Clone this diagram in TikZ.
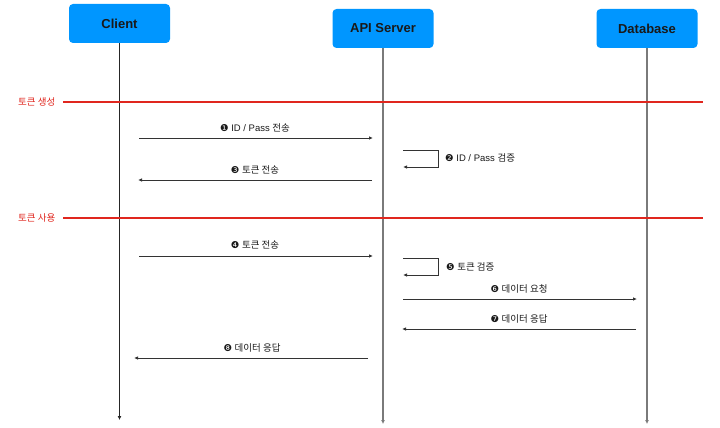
\documentclass[tikz,border=0pt]{standalone}
\usepackage{fontspec}
\setmainfont{Liberation Sans}
\newfontfamily\krfont{Noto Sans CJK KR}
\newfontfamily\symfont{DejaVu Sans}
\usetikzlibrary{arrows.meta, calc}

\definecolor{boxblue}{HTML}{0096FF}
\definecolor{phasered}{HTML}{E0261E}
\definecolor{lifegray}{HTML}{7A7A7A}
\definecolor{msgdark}{HTML}{333333}

\newcommand{\stepnum}[1]{{\symfont #1}}

\tikzset{
	actor/.style = {draw=none, fill=boxblue, rounded corners=4pt, minimum width=101pt, minimum height=39pt, inner sep=0pt, font=\fontsize{13}{15}\selectfont\bfseries, text=black!90},
	lifeline/.style = {line width=1.3pt, -{Latex[length=4pt, width=4pt]}},
	phase/.style = {draw=phasered, line width=1.5pt},
	phaselabel/.style = {text=phasered, font=\fontsize{9.5}{11}\selectfont\krfont, anchor=west, inner sep=0pt},
	msg/.style = {draw=msgdark, line width=1pt, -{Latex[length=4pt, width=3.5pt]}},
	msglabel/.style = {font=\fontsize{9.5}{11}\selectfont, text=black!90, inner sep=0pt}
}

\begin{document}
\begin{tikzpicture}[x=1pt, y=-1pt]

	\useasboundingbox (0,0) rectangle (720,428);

	% Define coordinates.

	%actors
	\node [actor] (client) at (119.5, 23.5) {Client};
	\node [actor] (api) at (383, 28.5) {API Server};
	\node [actor] (db) at (647, 28.5) {Database};

	%lifeline ends
	\coordinate (clientEnd) at (119.5, 420);
	\coordinate (apiEnd) at (383, 424);
	\coordinate (dbEnd) at (647, 424);

	%phase lines
	\coordinate (phaseOneL) at (63, 102);
	\coordinate (phaseOneR) at (703, 102);
	\coordinate (phaseTwoL) at (63, 218);
	\coordinate (phaseTwoR) at (703, 218);

	%messages
	\coordinate (m1s) at (139, 138);
	\coordinate (m1e) at (373, 138);
	\coordinate (m2a) at (403, 150);
	\coordinate (m2b) at (438, 167);
	\coordinate (m2c) at (403, 167);
	\coordinate (m3s) at (372, 180);
	\coordinate (m3e) at (138, 180);
	\coordinate (m4s) at (139, 256);
	\coordinate (m4e) at (373, 256);
	\coordinate (m5a) at (403, 258);
	\coordinate (m5b) at (438, 275);
	\coordinate (m5c) at (403, 275);
	\coordinate (m6s) at (403, 299);
	\coordinate (m6e) at (637, 299);
	\coordinate (m7s) at (636, 329);
	\coordinate (m7e) at (402, 329);
	\coordinate (m8s) at (368, 358);
	\coordinate (m8e) at (134, 358);

% Draw lifelines.

	\draw [lifeline, draw=black!85] (client.south) -- (clientEnd);
	\draw [lifeline, draw=lifegray] (api.south) -- (apiEnd);
	\draw [lifeline, draw=lifegray] (db.south) -- (dbEnd);

% Draw phases.

	\draw [phase] (phaseOneL) -- (phaseOneR);
	\node [phaselabel] (phaseOne) at (18, 101.5) {토큰 생성};

	\draw [phase] (phaseTwoL) -- (phaseTwoR);
	\node [phaselabel] (phaseTwo) at (18, 217.5) {토큰 사용};

% Draw messages.

	\draw [msg] (m1s) -- (m1e);
	\node [msglabel] (l1) at (255, 128) {\stepnum{❶} ID / Pass {\krfont 전송}};

	\draw [msg] (m2a) -| (m2b) -- (m2c);
	\node [msglabel, anchor=west] (l2) at (445, 158) {\stepnum{❷} ID / Pass {\krfont 검증}};

	\draw [msg] (m3s) -- (m3e);
	\node [msglabel] (l3) at (255, 170) {\stepnum{❸} {\krfont 토큰 전송}};

	\draw [msg] (m4s) -- (m4e);
	\node [msglabel] (l4) at (255, 245) {\stepnum{❹} {\krfont 토큰 전송}};

	\draw [msg] (m5a) -| (m5b) -- (m5c);
	\node [msglabel, anchor=west] (l5) at (446, 266.5) {\stepnum{❺} {\krfont 토큰 검증}};

	\draw [msg] (m6s) -- (m6e);
	\node [msglabel] (l6) at (519, 289) {\stepnum{❻} {\krfont 데이터 요청}};

	\draw [msg] (m7s) -- (m7e);
	\node [msglabel] (l7) at (519, 319) {\stepnum{❼} {\krfont 데이터 응답}};

	\draw [msg] (m8s) -- (m8e);
	\node [msglabel] (l8) at (252, 348) {\stepnum{❽} {\krfont 데이터 응답}};

\end{tikzpicture}
\end{document}
